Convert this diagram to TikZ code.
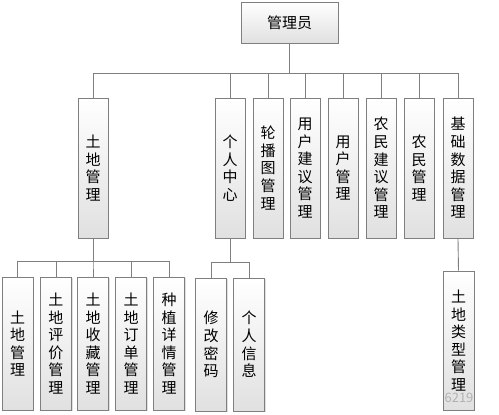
\documentclass[tikz,border=0pt]{standalone}
\usepackage{fontspec}
\setmainfont{Noto Sans CJK SC}
\usetikzlibrary{shadows}
\definecolor{linegray}{HTML}{7F7F7F}

\begin{document}
\begin{tikzpicture}[x=1pt, y=-1pt,
  box/.style={draw=linegray, line width=0.9pt, top color=white, bottom color=black!12,
    drop shadow={shadow xshift=1pt, shadow yshift=-1pt, opacity=0.25},
    inner sep=0pt, align=center, font={\fontsize{15}{17.6}\selectfont}},
  vbox/.style={box, minimum width=30pt, minimum height=140pt},
  lbox/.style={box, minimum width=31pt, minimum height=133pt},
  link/.style={draw=linegray, line width=0.9pt}]

\useasboundingbox (0,0) rectangle (499,415);

% top
\node[box, minimum width=97pt, minimum height=41pt] (admin) at (289.5,22.5) {管理员};

% second level
\node[vbox] (tdgl) at (93,168) {土\\地\\管\\理};
\node[vbox] (grzx) at (230,168) {个\\人\\中\\心};
\node[vbox] (lbt)  at (268,168) {轮\\播\\图\\管\\理};
\node[vbox] (yhjy) at (305,168) {用\\户\\建\\议\\管\\理};
\node[vbox] (yhgl) at (343,168) {用\\户\\管\\理};
\node[vbox] (nmjy) at (381,168) {农\\民\\建\\议\\管\\理};
\node[vbox] (nmgl) at (419,168) {农\\民\\管\\理};
\node[vbox] (jcsj) at (458,168) {基\\础\\数\\据\\管\\理};

% third level
\node[lbox] (tdgl1) at (17.5,343.5) {土\\地\\管\\理};
\node[lbox] (tdpj)  at (56,343.5) {土\\地\\评\\价\\管\\理};
\node[lbox] (tdsc)  at (93,343.5) {土\\地\\收\\藏\\管\\理};
\node[lbox] (tddd)  at (131,343.5) {土\\地\\订\\单\\管\\理};
\node[lbox] (zzxq)  at (169,343.5) {种\\植\\详\\情\\管\\理};
\node[lbox] (xgmm)  at (211,344.5) {修\\改\\密\\码};
\node[lbox] (grxx)  at (249,344.5) {个\\人\\信\\息};
\node[box, minimum width=31pt, minimum height=139pt] (tdlx) at (458.5,340.5) {土\\地\\类\\型\\管\\理};

% lines
\foreach \n in {tdgl,grzx,lbt,yhjy,yhgl,nmjy,nmgl,jcsj}
  \path[link] (admin.south) -- ++(0,30) -| (\n.north);
\foreach \n in {tdgl1,tdpj,tdsc,tddd,zzxq}
  \path[link] (tdgl.south) -- ++(0,23) -| (\n.north);
\foreach \n in {xgmm,grxx}
  \path[link] (grzx.south) -- ++(0,24) -| (\n.north);
\path[link] (jcsj.south) -- (tdlx.north);

% watermark
\node[text=black!30, font=\fontsize{13}{13}\selectfont, inner sep=0pt] (wm) at (459,398) {6219};

\end{tikzpicture}
\end{document}
